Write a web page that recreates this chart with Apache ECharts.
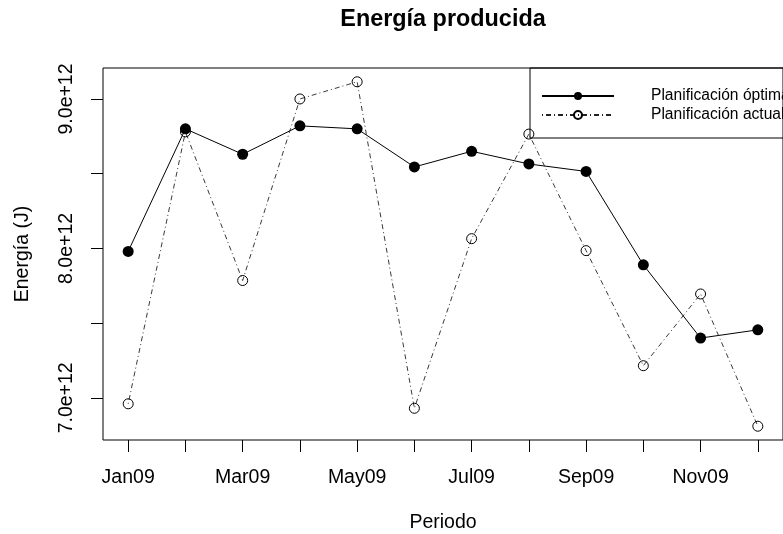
<!DOCTYPE html>
<html>
<head>
<meta charset="utf-8">
<script src="https://cdn.jsdelivr.net/npm/echarts@6/dist/echarts.min.js"></script>
<style>
  html, body { margin: 0; padding: 0; background: #fff; }
  #chart { width: 783px; height: 534px; }
</style>
</head>
<body>
<div id="chart"></div>
<script>
// Monthly periods (index 1..12) and their labels
const periods = ['Jan09', 'Feb09', 'Mar09', 'Apr09', 'May09', 'Jun09',
                 'Jul09', 'Aug09', 'Sep09', 'Oct09', 'Nov09', 'Dec09'];
const labelledPeriods = ['Jan09', 'Mar09', 'May09', 'Jul09', 'Sep09', 'Nov09'];

// Energy produced (J)
const optima = [7.98e12, 8.80e12, 8.63e12, 8.82e12, 8.80e12, 8.545e12,
                8.65e12, 8.565e12, 8.515e12, 7.89e12, 7.40e12, 7.455e12];
const actual = [6.96e12, 8.78e12, 7.785e12, 9.00e12, 9.115e12, 6.93e12,
                8.065e12, 8.765e12, 7.985e12, 7.215e12, 7.695e12, 6.81e12];

// Energy axis ticks and labels
const yTicks = [7.0e12, 7.5e12, 8.0e12, 8.5e12, 9.0e12];
const yLabels = [7.0e12, 8.0e12, 9.0e12];

const xs = periods.map((_, i) => i + 1);
const xTickLabelPos = labelledPeriods.map(p => periods.indexOf(p) + 1);

// 4% padding on both axes, like a classic statistics plot
function padRange(vals) {
  const lo = Math.min(...vals), hi = Math.max(...vals);
  const d = (hi - lo) * 0.04;
  return [lo - d, hi + d];
}
const [xMin, xMax] = padRange(xs);
const [yMin, yMax] = padRange(optima.concat(actual));

const FONT = 'Liberation Sans, Arial, Helvetica, sans-serif';

const chart = echarts.init(document.getElementById('chart'), null, { renderer: 'canvas' });
chart.setOption({
  backgroundColor: '#ffffff',
  animation: false,
  textStyle: { fontFamily: FONT, color: '#000' },
  title: {
    text: 'Energía producida',
    left: 443,
    top: 8,
    padding: 0,
    textAlign: 'center',
    textStyle: { fontFamily: FONT, fontSize: 23.4, fontWeight: 'bold', color: '#000', lineHeight: 23 }
  },
  legend: {
    orient: 'vertical',
    left: 530,
    top: 68,
    padding: [19, 40, 14, 11],
    borderColor: '#000',
    borderWidth: 1,
    borderRadius: 0,
    itemWidth: 72,
    itemHeight: 10,
    itemGap: 1,
    textStyle: { fontFamily: FONT, fontSize: 15.6, color: '#000', lineHeight: 18, padding: [0, 0, 0, 32] },
    data: ['Planificación óptima', 'Planificación actual']
  },
  grid: {
    left: 103, right: 0, top: 68, bottom: 94,
    outerBoundsMode: 'none',
    containLabel: false,
    show: true, borderColor: '#000', borderWidth: 1, backgroundColor: 'transparent'
  },
  xAxis: {
    type: 'value',
    min: xMin, max: xMax,
    name: 'Periodo',
    nameLocation: 'middle',
    nameGap: 73,
    nameTextStyle: { fontFamily: FONT, fontSize: 19.5, color: '#000' },
    axisLine: { show: false },
    axisTick: { show: true, inside: false, length: 12, lineStyle: { color: '#000', width: 1 }, customValues: xs },
    axisLabel: {
      show: true, margin: 28, fontFamily: FONT, fontSize: 19.5, color: '#000',
      customValues: xTickLabelPos,
      formatter: v => periods[Math.round(v) - 1]
    },
    splitLine: { show: false }
  },
  yAxis: {
    type: 'value',
    min: yMin, max: yMax,
    name: 'Energía (J)',
    nameLocation: 'middle',
    nameGap: 70,
    nameTextStyle: { fontFamily: FONT, fontSize: 19.5, color: '#000' },
    axisLine: { show: false },
    axisTick: { show: true, inside: false, length: 12, lineStyle: { color: '#000', width: 1 }, customValues: yTicks },
    axisLabel: {
      show: true, margin: 26, rotate: 90, fontFamily: FONT, fontSize: 19.5, color: '#000',
      customValues: yLabels,
      formatter: v => (v / 1e12).toFixed(1) + 'e+12'
    },
    splitLine: { show: false }
  },
  series: [
    {
      name: 'Planificación óptima',
      type: 'line',
      data: xs.map((x, i) => [x, optima[i]]),
      symbol: 'circle',
      symbolSize: 11,
      itemStyle: { color: '#000' },
      lineStyle: { color: '#000', width: 1, type: 'solid' },
      z: 2
    },
    {
      name: 'Planificación actual',
      type: 'line',
      data: xs.map((x, i) => [x, actual[i]]),
      symbol: 'circle',
      symbolSize: 10,
      itemStyle: { color: 'rgba(255,255,255,0)', borderColor: '#000', borderWidth: 1 },
      lineStyle: { color: '#222', width: 0.9, type: [1, 3, 5, 3] },
      z: 3
    }
  ]
});
</script>
</body>
</html>
